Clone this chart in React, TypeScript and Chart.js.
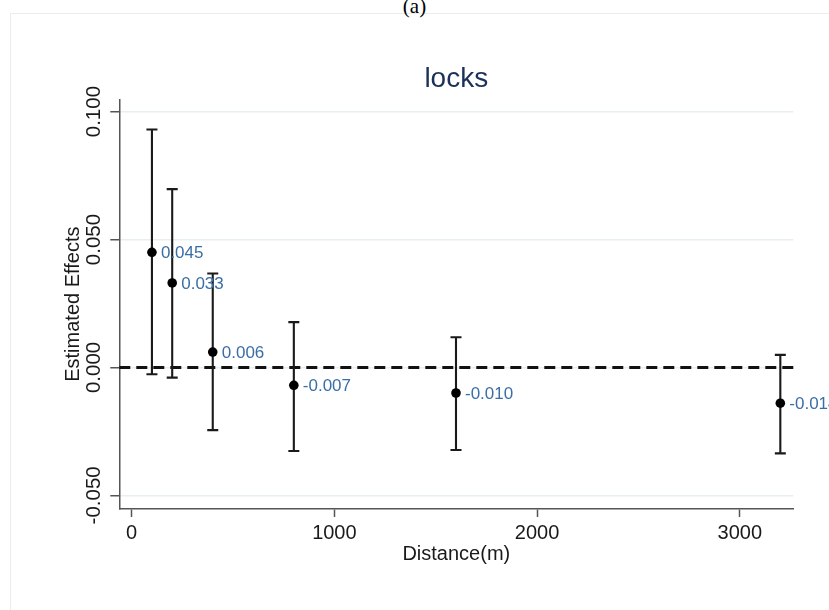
import React, { useEffect, useRef } from "react";
import { Chart, registerables } from "chart.js";

Chart.register(...registerables);

// ---- data ----
const distances = [100, 200, 400, 800, 1600, 3200];
const estimates = [0.045, 0.033, 0.006, -0.007, -0.01, -0.014];
const ciLower = [-0.0027, -0.004, -0.0245, -0.0327, -0.0323, -0.0336];
const ciUpper = [0.093, 0.0697, 0.0367, 0.0177, 0.0118, 0.0049];
const pointLabels = ["0.045", "0.033", "0.006", "-0.007", "-0.010", "-0.014"];
const xTicks = [0, 1000, 2000, 3000];
const xTickLabels = ["0", "1000", "2000", "3000"];
const yTicks = [-0.05, 0, 0.05, 0.1];
const yTickLabels = ["-0.050", "0.000", "0.050", "0.100"];
const titleText = "locks";
const xTitle = "Distance(m)";
const yTitle = "Estimated Effects";
const caption = "(a)";

const FONT = "'Liberation Sans', Arial, Helvetica, sans-serif";

const errorBarPlugin = {
  id: "errorBars",
  beforeDatasetsDraw(chart: any) {
    const { ctx, chartArea, scales } = chart;
    const x = scales.x;
    const y = scales.y;
    // dashed zero reference line
    ctx.save();
    ctx.strokeStyle = "#111";
    ctx.lineWidth = 3;
    ctx.setLineDash([11, 6]);
    const y0 = y.getPixelForValue(0);
    ctx.beginPath();
    ctx.moveTo(chartArea.left, y0);
    ctx.lineTo(chartArea.right, y0);
    ctx.stroke();
    ctx.restore();
    // error bars
    ctx.save();
    ctx.strokeStyle = "#1a1a1a";
    ctx.lineWidth = 2.1;
    const cap = 5.5;
    distances.forEach((d, i) => {
      const px = x.getPixelForValue(d);
      const pl = y.getPixelForValue(ciLower[i]);
      const pu = y.getPixelForValue(ciUpper[i]);
      ctx.beginPath();
      ctx.moveTo(px, pu);
      ctx.lineTo(px, pl);
      ctx.moveTo(px - cap, pu);
      ctx.lineTo(px + cap, pu);
      ctx.moveTo(px - cap, pl);
      ctx.lineTo(px + cap, pl);
      ctx.stroke();
    });
    ctx.restore();
  },
  afterDatasetsDraw(chart: any) {
    const { ctx, scales } = chart;
    ctx.save();
    ctx.fillStyle = "#3a6ea5";
    ctx.font = `17px ${FONT}`;
    ctx.textAlign = "left";
    ctx.textBaseline = "middle";
    distances.forEach((d, i) => {
      const px = scales.x.getPixelForValue(d);
      const py = scales.y.getPixelForValue(estimates[i]);
      ctx.fillText(pointLabels[i], px + 9, py + 1);
    });
    ctx.restore();
  },
};

export default function App() {
  const ref = useRef<HTMLCanvasElement | null>(null);
  useEffect(() => {
    if (!ref.current) return;
    const chart = new Chart(ref.current, {
      type: "scatter",
      data: {
        datasets: [
          {
            label: "Estimate",
            data: distances.map((d, i) => ({ x: d, y: estimates[i] })),
            backgroundColor: "#000",
            borderColor: "#000",
            pointRadius: 4.8,
            pointBorderWidth: 0,
            showLine: false,
          },
        ],
      },
      plugins: [errorBarPlugin],
      options: {
        responsive: false,
        animation: false,
        layout: { padding: { left: 0, right: 35.7, top: 0, bottom: 0 } },
        plugins: {
          legend: { display: false },
          tooltip: { enabled: false },
          title: {
            display: true,
            text: titleText,
            fullSize: false,
            color: "#1c3158",
            font: { family: FONT, size: 28, weight: "normal" },
            padding: { top: 62.7, bottom: 3 },
          },
        },
        scales: {
          x: {
            type: "linear",
            min: -61,
            max: 3264,
            afterBuildTicks: (s: any) => {
              s.ticks = xTicks.map((v) => ({ value: v }));
            },
            afterFit: (s: any) => {
              s.height = 101;
            },
            ticks: {
              color: "#1a1a1a",
              font: { family: FONT, size: 20 },
              padding: 4,
              maxRotation: 0,
              callback: (v: any) => {
                const i = xTicks.indexOf(Number(v));
                return i >= 0 ? xTickLabels[i] : "";
              },
            },
            grid: {
              drawOnChartArea: false,
              drawTicks: true,
              tickLength: 8,
              tickColor: "#555",
              tickWidth: 1.5,
            },
            border: { display: true, color: "#555", width: 1.5 },
            title: {
              display: true,
              text: xTitle,
              color: "#1a1a1a",
              font: { family: FONT, size: 20 },
              padding: { top: 0, bottom: 44 },
            },
          },
          y: {
            type: "linear",
            min: -0.05535,
            max: 0.1048,
            afterBuildTicks: (s: any) => {
              s.ticks = yTicks.map((v) => ({ value: v }));
            },
            afterFit: (s: any) => {
              s.width = 119.3;
            },
            ticks: {
              color: "#1a1a1a",
              font: { family: FONT, size: 20.5 },
              minRotation: 90,
              maxRotation: 90,
              crossAlign: "center",
              padding: -13,
              callback: (v: any) => {
                const i = yTicks.findIndex((t) => Math.abs(t - Number(v)) < 1e-9);
                return i >= 0 ? yTickLabels[i] : "";
              },
            },
            grid: {
              color: "#e8eff3",
              lineWidth: 1.5,
              drawTicks: true,
              tickLength: 9,
              tickColor: "#555",
              tickWidth: 1.5,
            },
            border: { display: true, color: "#555", width: 1.5 },
            title: {
              display: true,
              text: yTitle,
              color: "#1a1a1a",
              font: { family: FONT, size: 20 },
              padding: { top: 61, bottom: 0 },
            },
          },
        },
      },
    } as any);
    return () => chart.destroy();
  }, []);

  return (
    <div
      style={{
        position: "fixed",
        left: 0,
        top: 0,
        width: 829,
        height: 610,
        background: "#fff",
        overflow: "hidden",
      }}
    >
      <div
        style={{
          position: "absolute",
          left: 9.5,
          top: 13,
          width: 900,
          height: 700,
          border: "1px solid #ececec",
        }}
      />
      <div
        style={{
          position: "absolute",
          left: 0,
          width: 829,
          top: -6,
          textAlign: "center",
          fontFamily: "'Liberation Serif', 'Times New Roman', serif",
          fontSize: 21,
          lineHeight: "24px",
          color: "#000",
        }}
      >
        {caption}
      </div>
      <canvas
        ref={ref}
        width={829}
        height={610}
        style={{ position: "absolute", left: 0, top: 0, width: 829, height: 610 }}
      />
    </div>
  );
}
